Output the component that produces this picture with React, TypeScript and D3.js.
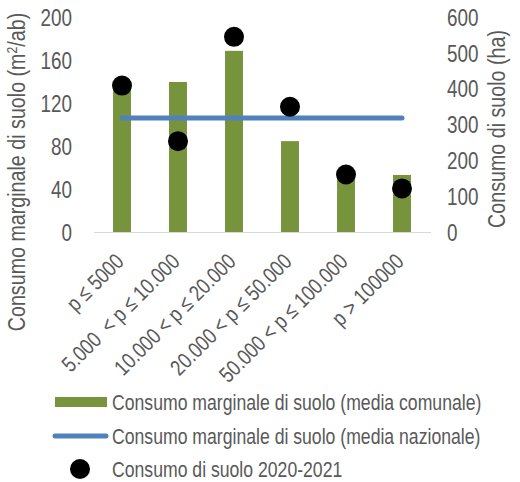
import React, { useRef, useEffect } from "react";
import * as d3 from "d3";

const categories = [
  "p ≤ 5000",
  "5.000  < p ≤ 10.000",
  "10.000 < p ≤ 20.000",
  "20.000 < p ≤ 50.000",
  "50.000 < p ≤ 100.000",
  "p > 100000",
];
const mediaComunale = [136, 140, 169, 85, 55, 53.5];
const mediaNazionale = [106.5, 106.5, 106.5, 106.5, 106.5, 106.5];
const consumo2021 = [410, 255, 546, 351, 162, 123];
const leftTicks = [0, 40, 80, 120, 160, 200];
const rightTicks = [0, 100, 200, 300, 400, 500, 600];
const legendLabels = [
  "Consumo marginale di suolo (media comunale)",
  "Consumo marginale di suolo (media nazionale)",
  "Consumo di suolo 2020-2021",
];

// no narrow font installed, so glyphs are squeezed along the text direction
const FONT = "'Liberation Sans', Arial, sans-serif";
const NARROW = 0.82;
const GREY = "#595959";
const GREEN = "#77933c";
const BLUE = "#4f81bd";

function App() {
  const svgRef = useRef(null);

  useEffect(() => {
    const svg = d3.select(svgRef.current);
    svg.selectAll("*").remove();
    const width = 520;
    const height = 482;
    const plot = { left: 94, right: 431, top: 17.5, bottom: 232.5 };

    svg.attr("width", width).attr("height", height);
    svg.append("rect").attr("width", width).attr("height", height).attr("fill", "#fff");

    const xScale = d3
      .scaleBand()
      .domain(categories)
      .range([plot.left, plot.right - 1])
      .paddingInner(0.68)
      .paddingOuter(0.34);
    const cx = (c) => xScale(c) + xScale.bandwidth() / 2;

    const yLeft = d3.scaleLinear().domain([0, 200]).range([plot.bottom, plot.top]);
    const yRight = d3.scaleLinear().domain([0, 600]).range([plot.bottom, plot.top]);

    // bars
    svg.append("g")
      .selectAll("rect")
      .data(mediaComunale)
      .enter()
      .append("rect")
      .attr("x", (d, i) => xScale(categories[i]))
      .attr("y", (d) => yLeft(d))
      .attr("width", xScale.bandwidth())
      .attr("height", (d) => yLeft(0) - yLeft(d))
      .attr("fill", GREEN);

    // x axis line
    svg.append("line")
      .attr("x1", plot.left)
      .attr("x2", plot.right)
      .attr("y1", plot.bottom)
      .attr("y2", plot.bottom)
      .attr("stroke", "#d9d9d9")
      .attr("stroke-width", 1.2);

    // national average line
    const line = d3
      .line()
      .x((d, i) => cx(categories[i]))
      .y((d) => yLeft(d));
    svg.append("path")
      .datum(mediaNazionale)
      .attr("d", line)
      .attr("fill", "none")
      .attr("stroke", BLUE)
      .attr("stroke-width", 5)
      .attr("stroke-linecap", "round");

    // dots
    svg.append("g")
      .selectAll("circle")
      .data(consumo2021)
      .enter()
      .append("circle")
      .attr("cx", (d, i) => cx(categories[i]))
      .attr("cy", (d) => yRight(d))
      .attr("r", 10)
      .attr("fill", "#000");

    const addText = (g, transform, anchor, size, str) =>
      g.append("text")
        .attr("transform", transform)
        .attr("text-anchor", anchor)
        .attr("font-family", FONT)
        .attr("font-size", size)
        .attr("fill", GREY)
        .style("white-space", "pre")
        .text(str);

    // tick labels
    const ticks = svg.append("g");
    leftTicks.forEach((t) =>
      addText(ticks, `translate(72,${yLeft(t)}) scale(${NARROW},1)`, "end", 23, String(t))
        .attr("dy", "0.36em")
    );
    rightTicks.forEach((t) =>
      addText(ticks, `translate(447,${yRight(t)}) scale(${NARROW},1)`, "start", 23, String(t))
        .attr("dy", "0.36em")
    );

    // category labels
    const cats = svg.append("g");
    categories.forEach((c) =>
      addText(cats, `translate(${cx(c) + 3},263) rotate(-45) scale(${NARROW},1)`, "end", 22, c)
    );

    // axis titles
    const lt = addText(svg, `translate(25,172) rotate(-90) scale(${NARROW},1)`, "middle", 24, null);
    lt.append("tspan").text("Consumo marginale di suolo (m");
    lt.append("tspan").attr("font-size", 15).attr("dy", -8).text("2");
    lt.append("tspan").attr("dy", 8).text("/ab)");

    addText(svg, `translate(505,129) rotate(-90) scale(${NARROW},1)`, "middle", 24, "Consumo di suolo (ha)");

    // legend
    const legendY = [402, 436, 469];
    const lg = svg.append("g");
    lg.append("rect").attr("x", 55).attr("y", legendY[0] - 5).attr("width", 52).attr("height", 10).attr("fill", GREEN);
    lg.append("line")
      .attr("x1", 55).attr("x2", 106)
      .attr("y1", legendY[1]).attr("y2", legendY[1])
      .attr("stroke", BLUE).attr("stroke-width", 5).attr("stroke-linecap", "round");
    lg.append("circle").attr("cx", 80).attr("cy", legendY[2]).attr("r", 10).attr("fill", "#000");
    legendLabels.forEach((l, i) =>
      addText(lg, `translate(112,${legendY[i]}) scale(${NARROW},1)`, "start", 21.5, l).attr("dy", "0.36em")
    );
  }, []);

  return (
    <svg ref={svgRef} style={{ position: "absolute", left: 0, top: 0 }}></svg>
  );
}

export default App;
